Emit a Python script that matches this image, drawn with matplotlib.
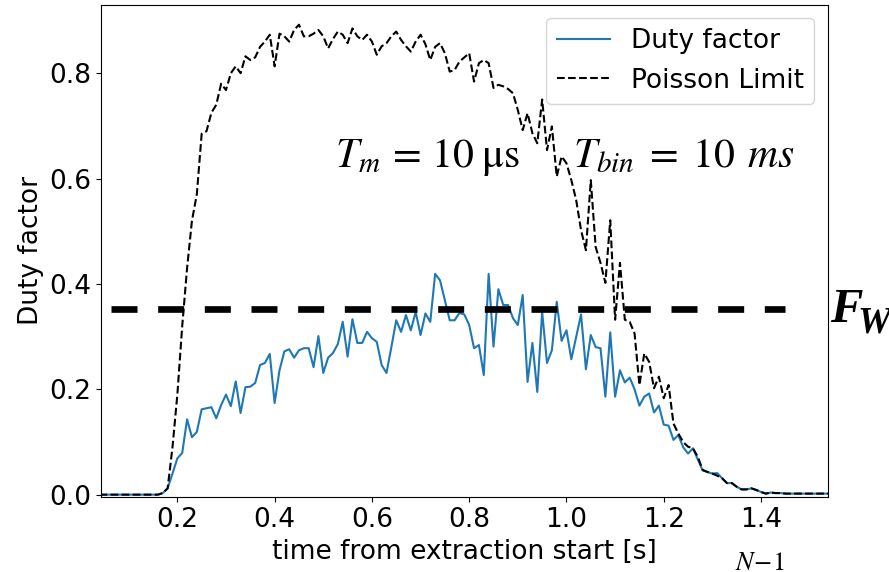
import numpy as np
import matplotlib.pyplot as plt

plt.rcParams['mathtext.fontset'] = 'stix'

# time bins (10 ms) from 0.04 s to 1.54 s
t = np.arange(4, 155) / 100

duty_factor = [0.0] * 13 + [
    0.003, 0.012, 0.04, 0.069, 0.079, 0.143, 0.109, 0.119, 0.162, 0.164,
    0.166, 0.145, 0.17, 0.19, 0.168, 0.215, 0.155, 0.204, 0.205, 0.212,
    0.246, 0.25, 0.267, 0.174, 0.236, 0.272, 0.276, 0.26, 0.274, 0.278,
    0.278, 0.242, 0.301, 0.231, 0.26, 0.269, 0.286, 0.328, 0.262, 0.333,
    0.288, 0.288, 0.309, 0.297, 0.29, 0.246, 0.231, 0.28, 0.331, 0.309,
    0.341, 0.312, 0.347, 0.303, 0.344, 0.328, 0.419, 0.407, 0.369, 0.331,
    0.331, 0.345, 0.342, 0.322, 0.278, 0.284, 0.227, 0.419, 0.281, 0.39,
    0.36, 0.36, 0.335, 0.322, 0.379, 0.214, 0.288, 0.195, 0.347, 0.25,
    0.274, 0.366, 0.292, 0.312, 0.257, 0.3, 0.342, 0.238, 0.303, 0.28,
    0.278, 0.186, 0.308, 0.186, 0.236, 0.213, 0.222, 0.2, 0.169, 0.186,
    0.192, 0.156, 0.169, 0.133, 0.131, 0.104, 0.113, 0.09, 0.078, 0.088,
    0.067, 0.046, 0.043, 0.04, 0.041, 0.031, 0.022, 0.022, 0.015, 0.01,
    0.01, 0.012, 0.009, 0.005, 0.002, 0.004, 0.003, 0.003, 0.002,
] + [0.002] * 9

poisson_limit = [0.0] * 13 + [
    0.003, 0.012, 0.09, 0.19, 0.32, 0.43, 0.52, 0.57, 0.685, 0.69,
    0.725, 0.74, 0.78, 0.768, 0.80, 0.813, 0.80, 0.832, 0.825, 0.83,
    0.85, 0.86, 0.873, 0.813, 0.875, 0.87, 0.86, 0.882, 0.892, 0.87,
    0.87, 0.875, 0.882, 0.87, 0.847, 0.865, 0.879, 0.873, 0.857, 0.885,
    0.87, 0.863, 0.873, 0.86, 0.835, 0.851, 0.857, 0.87, 0.879, 0.863,
    0.851, 0.841, 0.86, 0.873, 0.855, 0.825, 0.85, 0.857, 0.838, 0.803,
    0.806, 0.822, 0.83, 0.838, 0.784, 0.819, 0.825, 0.819, 0.772, 0.778,
    0.775, 0.77, 0.762, 0.73, 0.692, 0.724, 0.686, 0.667, 0.75, 0.654,
    0.699, 0.604, 0.642, 0.629, 0.597, 0.559, 0.502, 0.464, 0.597, 0.47,
    0.44, 0.402, 0.521, 0.332, 0.44, 0.332, 0.328, 0.306, 0.208, 0.268,
    0.252, 0.202, 0.224, 0.183, 0.208, 0.135, 0.116, 0.1, 0.091, 0.088,
    0.072, 0.047, 0.043, 0.04, 0.036, 0.031, 0.022, 0.022, 0.015, 0.01,
    0.01, 0.012, 0.009, 0.005, 0.002, 0.004, 0.003, 0.003, 0.002,
] + [0.002] * 9

f_w = 0.352
f_w_span = [0.063, 1.449]

fig = plt.figure(figsize=(8.89, 5.72), dpi=100)
ax = fig.add_axes([0.1136, 0.1306, 0.8174, 0.8612])

ax.plot(t, duty_factor, color='#1f77b4', lw=1.5, label='Duty factor')
ax.plot(t, poisson_limit, 'k--', lw=1.5, label='Poisson Limit')
ax.plot(f_w_span, [f_w, f_w], color='k', lw=4.8, dashes=(3.9, 3.1), zorder=5)

ax.set_xlim(0.043, 1.537)
ax.set_ylim(-0.005, 0.93)
ax.set_xticks([0.2, 0.4, 0.6, 0.8, 1.0, 1.2, 1.4])
ax.set_yticks([0.0, 0.2, 0.4, 0.6, 0.8])
ax.tick_params(labelsize=19)
ax.set_xlabel('time from extraction start [s]', fontsize=19)
ax.set_ylabel('Duty factor', fontsize=19)
ax.legend(loc='upper right', fontsize=19)

# measurement settings
ax.text(0.524, 0.622, r'$T_m\,=\,10\;\mathrm{μs}$', fontsize=30,
        ha='left', va='baseline')
ax.text(1.014, 0.622, r'$T_{bin}\;=\;10\;\,ms$', fontsize=30,
        ha='left', va='baseline')

fig.text(0.934, 0.437, 'F', fontfamily='Liberation Serif', fontweight='bold',
         style='italic', fontsize=35, va='baseline')
fig.text(0.965, 0.418, 'W', fontfamily='Liberation Serif', fontweight='bold',
         style='italic', fontsize=27, va='baseline')
fig.text(0.827, 0.003, r'$N\!-\!1$', fontsize=19, va='baseline')

fig.savefig('out.png', dpi=100)
